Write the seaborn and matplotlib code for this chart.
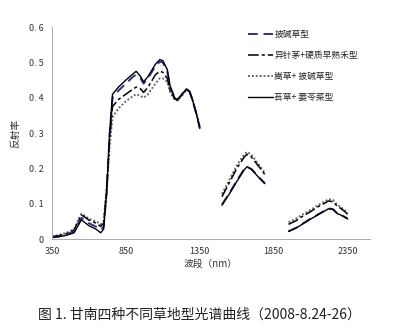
import numpy as np
import pandas as pd
import matplotlib
matplotlib.use("Agg")
import matplotlib.pyplot as plt
from matplotlib.lines import Line2D
import seaborn as sns

sns.set_style("white")
plt.rcParams['font.family'] = ['Noto Sans CJK SC', 'DejaVu Sans']

# wavelengths (nm) per segment
wl_seg1 = [350, 400, 450, 500, 530, 550, 570, 600, 650, 680, 700, 720, 740, 760, 800, 850,
           900, 920, 950, 970, 1000, 1050, 1080, 1100, 1130, 1150, 1180, 1200, 1230, 1260,
           1280, 1300, 1330, 1350]
wl_seg2 = [1500, 1550, 1600, 1650, 1670, 1700, 1750, 1790]
wl_seg3 = [1950, 2000, 2050, 2100, 2150, 2200, 2220, 2250, 2280, 2300, 2330, 2350]

names = ["披碱草型", "异针茅+硬质早熟禾型", "嵩草+ 披碱草型", "苔草+ 萎苓菜型"]

# reflectance values
pj_1 = [0.005, 0.008, 0.013, 0.022, 0.045, 0.060, 0.055, 0.045, 0.035, 0.026, 0.035, 0.13, 0.29, 0.40,
        0.42, 0.44, 0.46, 0.465, 0.455, 0.44, 0.455, 0.49, 0.502, 0.50, 0.475, 0.43, 0.40, 0.395,
        0.41, 0.424, 0.418, 0.395, 0.35, 0.315]
pj_2 = [0.098, 0.13, 0.165, 0.198, 0.205, 0.198, 0.175, 0.158]
pj_3 = [0.022, 0.032, 0.045, 0.058, 0.07, 0.082, 0.087, 0.085, 0.073, 0.07, 0.063, 0.058]

yz_1 = [0.007, 0.010, 0.016, 0.026, 0.052, 0.068, 0.063, 0.054, 0.045, 0.036, 0.045, 0.14, 0.28, 0.375,
        0.395, 0.41, 0.425, 0.43, 0.425, 0.415, 0.43, 0.465, 0.475, 0.472, 0.455, 0.42, 0.397, 0.393,
        0.408, 0.424, 0.418, 0.395, 0.35, 0.318]
yz_2 = [0.12, 0.16, 0.20, 0.232, 0.24, 0.232, 0.205, 0.183]
yz_3 = [0.042, 0.052, 0.066, 0.078, 0.092, 0.103, 0.108, 0.106, 0.093, 0.088, 0.078, 0.07]

sc_1 = [0.008, 0.012, 0.018, 0.028, 0.056, 0.072, 0.067, 0.058, 0.05, 0.042, 0.05, 0.14, 0.26, 0.345,
        0.37, 0.39, 0.405, 0.41, 0.405, 0.40, 0.41, 0.44, 0.455, 0.455, 0.445, 0.415, 0.395, 0.392,
        0.406, 0.422, 0.417, 0.395, 0.352, 0.32]
sc_2 = [0.128, 0.168, 0.208, 0.24, 0.247, 0.238, 0.21, 0.188]
sc_3 = [0.048, 0.058, 0.071, 0.083, 0.096, 0.108, 0.113, 0.111, 0.097, 0.092, 0.082, 0.074]

tc_1 = [0.005, 0.007, 0.011, 0.018, 0.040, 0.055, 0.048, 0.038, 0.028, 0.018, 0.028, 0.13, 0.30, 0.41,
        0.43, 0.45, 0.468, 0.475, 0.46, 0.445, 0.46, 0.495, 0.508, 0.505, 0.48, 0.432, 0.40, 0.395,
        0.41, 0.425, 0.419, 0.395, 0.35, 0.313]
tc_2 = [0.096, 0.128, 0.163, 0.196, 0.205, 0.197, 0.174, 0.157]
tc_3 = [0.022, 0.031, 0.044, 0.057, 0.069, 0.081, 0.086, 0.084, 0.072, 0.069, 0.062, 0.057]

series = [(pj_1, pj_2, pj_3), (yz_1, yz_2, yz_3), (sc_1, sc_2, sc_3), (tc_1, tc_2, tc_3)]

rows = []
for name, segs in zip(names, series):
    for si, (wls, vals) in enumerate(zip([wl_seg1, wl_seg2, wl_seg3], segs)):
        for w, v in zip(wls, vals):
            rows.append({"name": name, "seg": si, "wl": w, "r": v})
df = pd.DataFrame(rows)

styles = {
    names[0]: dict(color="#2e2e8c", linestyle=(0, (5, 3)), linewidth=1.4),
    names[1]: dict(color="black", linestyle=(0, (7, 2, 2, 2)), linewidth=1.1),
    names[2]: dict(color="#6a6a6a", linestyle=(0, (1, 1)), linewidth=1.4),
    names[3]: dict(color="black", linestyle="-", linewidth=1.0),
}

fig = plt.figure(figsize=(3.99, 3.34), dpi=100)
ax = fig.add_axes([0.130, 0.284, 0.797, 0.635])

for name in [names[2], names[1], names[0], names[3]]:
    sub = df[df["name"] == name]
    sns.lineplot(data=sub, x="wl", y="r", units="seg", estimator=None, ax=ax,
                 legend=False, **styles[name])

ax.set_xlim(350, 2500)
ax.set_ylim(0, 0.6)
xt = [350, 850, 1350, 1850, 2350]
ax.set_xticks(xt)
ax.set_xticklabels([str(v) for v in xt], fontsize=6.5, color="#333333")
yt = [0, 0.1, 0.2, 0.3, 0.4, 0.5, 0.6]
ax.set_yticks(yt)
ax.set_yticklabels(["0", "0. 1", "0. 2", "0. 3", "0. 4", "0. 5", "0. 6"], fontsize=6.5, color="#333333")
ax.tick_params(axis="both", direction="in", length=3, width=0.6, color="#aaaaaa", pad=6)
for s in ["top", "right"]:
    ax.spines[s].set_visible(False)
for s in ["left", "bottom"]:
    ax.spines[s].set_color("#aaaaaa")
    ax.spines[s].set_linewidth(0.7)
ax.set_xlabel("波段（nm）", fontsize=7, color="#333333", labelpad=2)
ax.set_ylabel("反射率", fontsize=7, color="#333333", labelpad=6)

handles = [Line2D([], [], **styles[n]) for n in names]
ax.legend(handles, names, loc="upper left", bbox_to_anchor=(0.603, 0.935),
          bbox_transform=fig.transFigure, frameon=False, fontsize=6.3,
          handlelength=2.8, handletextpad=0.15, labelspacing=1.4)

fig.text(0.5, 0.057, "图 1. 甘南四种不同草地型光谱曲线（2008-8.24-26）", ha="center",
         va="center", fontsize=10, color="#222222")

fig.savefig("out.png", dpi=100)
